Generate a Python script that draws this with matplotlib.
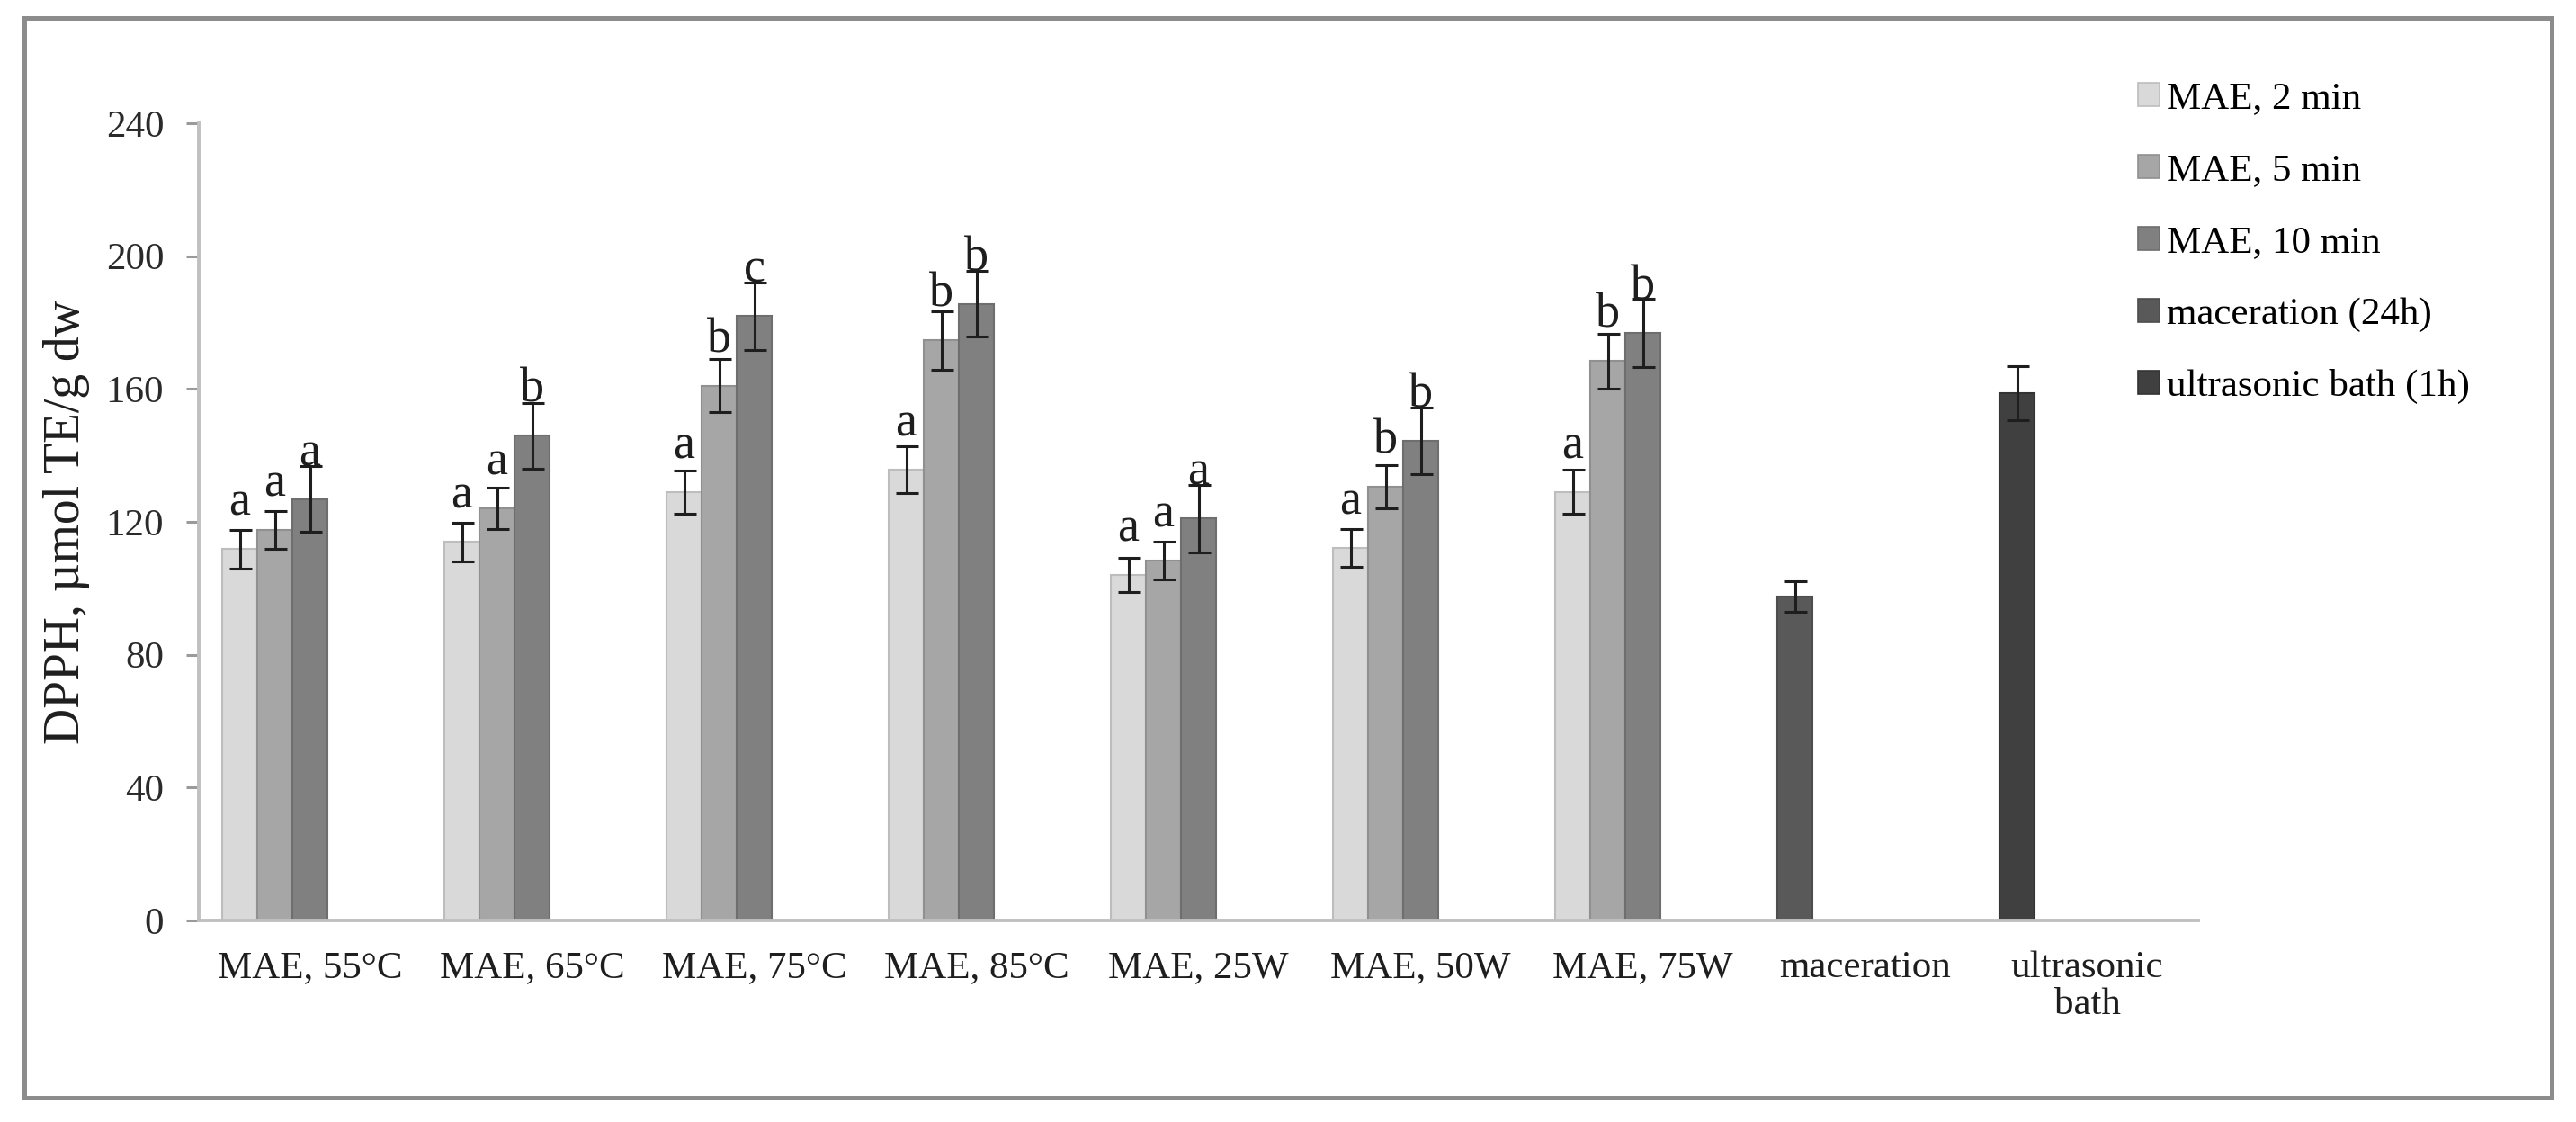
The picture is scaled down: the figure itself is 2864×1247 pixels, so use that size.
import numpy as np
import matplotlib
matplotlib.use("Agg")
import matplotlib.pyplot as plt
from matplotlib.patches import Rectangle, Patch

plt.rcParams["font.family"] = "Liberation Serif"
plt.rcParams["axes.axisbelow"] = True

# ---------------- data ----------------
categories = ["MAE, 55°C", "MAE, 65°C", "MAE, 75°C", "MAE, 85°C",
              "MAE, 25W", "MAE, 50W", "MAE, 75W", "maceration", "ultrasonic\nbath"]

mae_2min = [111.8, 114.0, 129.0, 135.7, 104.0, 112.2, 129.0]
mae_2min_err = [5.9, 5.8, 6.5, 7.0, 5.2, 5.7, 6.6]
mae_2min_let = ["a", "a", "a", "a", "a", "a", "a"]

mae_5min = [117.6, 124.0, 161.0, 174.6, 108.4, 130.6, 168.4]
mae_5min_err = [5.7, 6.2, 8.0, 8.7, 5.6, 6.5, 8.3]
mae_5min_let = ["a", "a", "b", "b", "a", "b", "b"]

mae_10min = [126.9, 145.9, 182.0, 185.7, 121.0, 144.3, 177.0]
mae_10min_err = [10.0, 10.0, 10.2, 10.0, 10.2, 10.0, 10.3]
mae_10min_let = ["a", "b", "c", "b", "a", "b", "b"]

maceration = [97.4]
maceration_err = [4.6]
ultrasonic = [158.8]
ultrasonic_err = [8.2]

series_names = ["MAE, 2 min", "MAE, 5 min", "MAE, 10 min",
                "maceration (24h)", "ultrasonic bath (1h)"]
fills = ["#d9d9d9", "#a6a6a6", "#808080", "#595959", "#404040"]
edges = ["#bdbdbd", "#909090", "#6e6e6e", "#4d4d4d", "#333333"]

# ----------------------------------------------------------
fig = plt.figure(figsize=(28.64, 12.47), dpi=100)
ax = fig.add_axes([0.0772, 0.1796, 0.7762, 0.7105])

w = 0.158
x = np.arange(len(categories))
x_mae = x[:7]

err_kw = dict(ecolor="#1e1e1e", elinewidth=2.2, capsize=9, capthick=2.2)

mae_sets = [(mae_2min, mae_2min_err, mae_2min_let),
            (mae_5min, mae_5min_err, mae_5min_let),
            (mae_10min, mae_10min_err, mae_10min_let)]

for k, (vals, errs, lets) in enumerate(mae_sets):
    xs = x_mae + (k - 2) * w
    ax.bar(xs, vals, w, color=fills[k], edgecolor=edges[k], linewidth=1.5,
           yerr=errs, error_kw=err_kw, zorder=2)
    for xi, v, l in zip(xs, vals, lets):
        ax.annotate(l, (xi, v), xytext=(0, 27), textcoords="offset points",
                    ha="center", va="baseline", fontsize=39, color="#1e1e1e")

ax.bar([x[7] - 2 * w], maceration, w, color=fills[3], edgecolor=edges[3],
       linewidth=1.5, yerr=maceration_err, error_kw=err_kw, zorder=2)
ax.bar([x[8] - 2 * w], ultrasonic, w, color=fills[4], edgecolor=edges[4],
       linewidth=1.5, yerr=ultrasonic_err, error_kw=err_kw, zorder=2)

ax.set_xlim(-0.5, len(categories) - 0.5)
ax.set_ylim(0, 240)
ax.set_yticks(np.arange(0, 241, 40))
ax.set_xticks(x)
ax.set_xticklabels(categories, fontsize=31, color="#1e1e1e", linespacing=1.1)

for s in ["top", "right"]:
    ax.spines[s].set_visible(False)
for s in ["left", "bottom"]:
    ax.spines[s].set_color("#c0c0c0")
    ax.spines[s].set_linewidth(2.8)

ax.tick_params(axis="x", length=0, pad=24)
ax.tick_params(axis="y", length=10, width=2.2, color="#9a9a9a", pad=18,
               labelsize=31, labelcolor="#2a2a2a")

fig.text(0.0258, 0.535, "DPPH, µmol TE/g dw", rotation=90, ha="center",
         va="center", fontsize=40, color="#1e1e1e")

handles = [Patch(facecolor=f, edgecolor=e, linewidth=1.2) for f, e in zip(fills, edges)]
fig.legend(handles, series_names, loc="upper left", bbox_to_anchor=(0.830, 0.927),
           frameon=False, fontsize=31, handlelength=0.55, handleheight=0.55,
           handletextpad=0.2, labelspacing=0.96, borderpad=0, borderaxespad=0)

# outer chart frame
fig.patches.append(Rectangle((27 / 2864, 1 - 1220 / 1247), (2837 - 27) / 2864,
                             (1220 - 20) / 1247, transform=fig.transFigure,
                             fill=False, edgecolor="#8c8c8c", linewidth=3.6))

fig.savefig("out.png", dpi=100)
